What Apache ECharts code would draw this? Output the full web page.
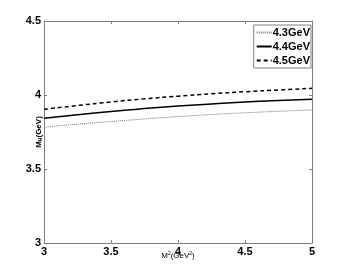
<!DOCTYPE html>
<html>
<head>
<meta charset="utf-8">
<script src="https://cdn.jsdelivr.net/npm/echarts@6/dist/echarts.min.js"></script>
<style>
  html, body { margin: 0; padding: 0; background: #fff; }
  #chart { width: 345px; height: 273px; }
</style>
</head>
<body>
<div id="chart"></div>
<script>
// Borel parameter M^2 (GeV^2)
const m2 = [3, 3.25, 3.5, 3.75, 4, 4.25, 4.5, 4.75, 5];
// M_H for three threshold values
const mh43 = [3.782, 3.803, 3.821, 3.838, 3.854, 3.868, 3.880, 3.890, 3.899];
const mh44 = [3.843, 3.867, 3.889, 3.908, 3.925, 3.940, 3.953, 3.963, 3.971];
const mh45 = [3.903, 3.929, 3.953, 3.974, 3.992, 4.008, 4.022, 4.034, 4.045];
const seriesNames = ['4.3GeV', '4.4GeV', '4.5GeV'];

const frame = '#808080';
const font = 'Liberation Sans, Arial, sans-serif';

function pairs(ys) {
  return m2.map((x, i) => [x, ys[i]]);
}

const chart = echarts.init(document.getElementById('chart'));

const option = {
  animation: false,
  backgroundColor: '#fff',
  textStyle: { fontFamily: font },
  grid: { left: 44, right: 33, top: 21, bottom: 30 },
  legend: {
    right: 34,
    top: 25,
    orient: 'vertical',
    align: 'left',
    data: seriesNames,
    itemWidth: 15,
    itemHeight: 8,
    itemGap: 3,
    padding: [2, 1, 2, 2],
    borderColor: frame,
    borderWidth: 1,
    backgroundColor: '#fff',
    itemStyle: { opacity: 0 },
    textStyle: { fontSize: 11, fontWeight: 'bold', color: '#000', padding: [0, 0, 0, -4] }
  },
  xAxis: [
    {
      type: 'value',
      min: 3, max: 5, interval: 0.5,
      name: '{b|M}{s|2}{b|(GeV}{s|2}{b|)}',
      nameLocation: 'middle',
      nameGap: 8,
      nameMoveOverlap: false,
      nameTextStyle: {
        rich: {
          b: { fontSize: 8, fontFamily: font, color: '#000' },
          s: { fontSize: 5, fontFamily: font, color: '#000', verticalAlign: 'top', padding: [0, 0, 4, 0] }
        }
      },
      axisLine: { lineStyle: { color: frame, width: 1 } },
      axisTick: { inside: true, length: 3, lineStyle: { color: frame } },
      splitLine: { show: false },
      axisLabel: {
        color: '#000', fontSize: 11, fontWeight: 'bold', margin: 3,
        formatter: v => String(v)
      }
    },
    {
      type: 'value', position: 'top',
      min: 3, max: 5, interval: 0.5,
      axisLine: { show: true, lineStyle: { color: frame, width: 1 } },
      axisTick: { inside: true, length: 3, lineStyle: { color: frame } },
      axisLabel: { show: false },
      splitLine: { show: false }
    }
  ],
  yAxis: [
    {
      type: 'value',
      min: 3, max: 4.5, interval: 0.5,
      name: '{b|M}{s|H}{b|(GeV)}',
      nameLocation: 'middle',
      nameGap: 1,
      nameMoveOverlap: false,
      nameTextStyle: {
        rich: {
          b: { fontSize: 8, fontFamily: font, fontWeight: 'bold', color: '#000' },
          s: { fontSize: 5, fontFamily: font, fontWeight: 'bold', color: '#000', verticalAlign: 'bottom', padding: [3, 0, 0, 0] }
        }
      },
      axisLine: { show: true, lineStyle: { color: frame, width: 1 } },
      axisTick: { show: true, inside: true, length: 3, lineStyle: { color: frame } },
      splitLine: { show: false },
      axisLabel: {
        color: '#000', fontSize: 11, fontWeight: 'bold', margin: 3,
        formatter: v => String(v)
      }
    },
    {
      type: 'value', position: 'right',
      min: 3, max: 4.5, interval: 0.5,
      axisLine: { show: true, lineStyle: { color: frame, width: 1 } },
      axisTick: { show: true, inside: true, length: 3, lineStyle: { color: frame } },
      axisLabel: { show: false },
      splitLine: { show: false }
    }
  ],
  series: [
    {
      name: seriesNames[0], type: 'line', smooth: true, symbol: 'none',
      data: pairs(mh43),
      lineStyle: { color: '#777', width: 1, type: [1, 1] },
      itemStyle: { color: '#777', opacity: 0 }
    },
    {
      name: seriesNames[1], type: 'line', smooth: true, symbol: 'none',
      data: pairs(mh44),
      lineStyle: { color: '#000', width: 1.5, type: 'solid' },
      itemStyle: { color: '#000', opacity: 0 }
    },
    {
      name: seriesNames[2], type: 'line', smooth: true, symbol: 'none',
      data: pairs(mh45),
      lineStyle: { color: '#000', width: 1.5, type: [4, 3] },
      itemStyle: { color: '#000', opacity: 0 }
    }
  ]
};

chart.setOption(option);
</script>
</body>
</html>
